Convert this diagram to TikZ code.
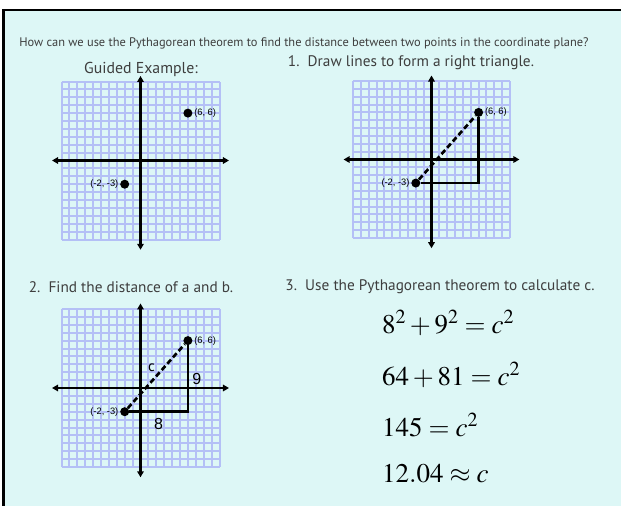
\documentclass[tikz,border=0pt]{standalone}
\usepackage{mathptmx}
\usepackage[no-math]{fontspec}
\setmainfont{PT Sans}
\newfontfamily\arialfont{Liberation Sans}
\usetikzlibrary{positioning,calc,arrows.meta}
\definecolor{BoardBg}{RGB}{221,247,246}
\definecolor{GridBlue}{RGB}{180,192,246}
\definecolor{InkGray}{RGB}{62,62,62}

\tikzset{
  gridline/.style={GridBlue,line width=2pt},
  axis/.style={line width=2.4pt,{Triangle[length=6pt,width=6.5pt]}-{Triangle[length=6pt,width=6.5pt]}},
  dot/.style={circle,fill=black,inner sep=0pt,minimum size=9pt},
  ptlabel/.style={font=\arialfont\fontsize{9.3}{10}\selectfont,inner sep=1.5pt},
  leg/.style={line width=2.7pt,line join=miter},
  hyp/.style={line width=2.7pt,dash pattern=on 5.5pt off 3pt},
  heading/.style={text=InkGray,font=\fontsize{15.3}{17}\selectfont,inner sep=0pt},
  eqn/.style={anchor=base west,inner sep=0pt,font=\fontsize{27}{30}\selectfont},
  sidelen/.style={font=\arialfont\fontsize{16}{18}\selectfont,inner sep=2pt},
  plane/.pic={
    \foreach \i in {-10,...,10} {
      \draw[gridline] (\i,-10) -- (\i,10);
      \draw[gridline] (-10,\i) -- (10,\i);
    }
    \draw[axis] (-11.2,0) -- (11.2,0);
    \draw[axis] (0,-11.3) -- (0,10.7);
    \node[dot,label={[ptlabel]right:(6, 6)}] (-p) at (6,6) {};
    \node[dot,label={[ptlabel]left:(-2, -3)}] (-q) at (-2,-3) {};
  }
}

\begin{document}
\begin{tikzpicture}[x=1pt,y=-1pt]
  \useasboundingbox (0,0) rectangle (621,506);
  \fill[BoardBg] (4,10) rectangle (621,506);
  \draw[line width=2pt] (3,10) -- (621,10);
  \draw[line width=3pt] (3.5,9) -- (3.5,506);

  \node[text=InkGray,font=\fontsize{12.4}{14}\selectfont,inner sep=0pt] (question) at (304,43)
    {How can we use the Pythagorean theorem to find the distance between two points in the coordinate plane?};
  \node[heading,font=\fontsize{15.8}{17}\selectfont] (guided) at (141,69.5) {Guided Example:};
  \node[heading] (step1) at (411,63) {1.\ \ Draw lines to form a right triangle.};
  \node[heading] (step2) at (131,287) {2.\ \ Find the distance of a and b.};
  \node[heading] (step3) at (440,287) {3.\ \ Use the Pythagorean theorem to calculate c.};

  % guided example
  \begin{scope}[shift={(140.5,160.5)},x=7.9pt,y=7.9pt]
    \pic (g1) {plane};
  \end{scope}

  % right triangle
  \begin{scope}[shift={(431.5,159.5)},x=7.85pt,y=7.85pt]
    \pic (g2) {plane};
    \draw[hyp] (g2-q) -- (g2-p);
    \draw[leg] (g2-q) -- (g2-q -| g2-p) -- (g2-p);
  \end{scope}

  % sides a and b
  \begin{scope}[shift={(140.5,388)},x=7.9pt,y=7.9pt]
    \pic (g3) {plane};
    \draw[hyp] (g3-q) -- node[sidelen,font=\fontsize{15}{16}\selectfont,above left=1pt and -2pt] (lc) {c} (g3-p);
    \draw[leg] (g3-q) -- node[sidelen,below=3pt] (la) {8} (g3-q -| g3-p)
      -- node[sidelen,right=1pt] (lb) {9} (g3-p);
  \end{scope}

  \node[eqn] (eq1) at (382,333) {$8^2+9^2=c^2$};
  \node[eqn] (eq2) at (382,385) {$64+81=c^2$};
  \node[eqn] (eq3) at (382,436) {$145=c^2$};
  \node[eqn] (eq4) at (382,482) {$12.04\approx c$};
\end{tikzpicture}
\end{document}
